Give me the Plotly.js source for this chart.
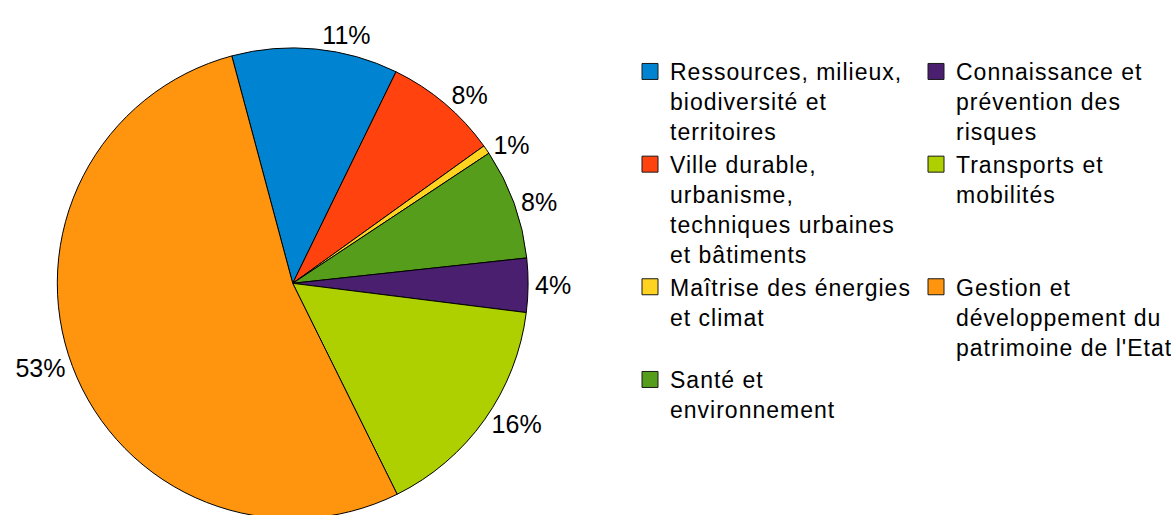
<!DOCTYPE html>
<html>
<head>
<meta charset="utf-8">
<script src="https://cdn.plot.ly/plotly-3.0.1.min.js"></script>
<style>
html,body{margin:0;padding:0;overflow:hidden;background:#fff;width:1171px;height:515px;}
#chart{width:1171px;height:540px;}
.legendtext{letter-spacing:1px;}
</style>
</head>
<body>
<div id="chart"></div>
<script>
// Slice order (clockwise from the top)
const categories = [
  "Ressources, milieux,<br>biodiversité et<br>territoires",
  "Ville durable,<br>urbanisme,<br>techniques urbaines<br>et bâtiments",
  "Maîtrise des énergies<br>et climat",
  "Santé et<br>environnement",
  "Connaissance et<br>prévention des<br>risques",
  "Transports et<br>mobilités",
  "Gestion et<br>développement du<br>patrimoine de l'Etat"
];
const shares = [11.4, 7.85, 0.6, 7.6, 3.7, 15.7, 53.15];
const colors = ["#0084d1", "#ff420e", "#ffd320", "#579d1c", "#4b1f6f", "#aecf00", "#ff950e"];
// legend reading order (row by row, two columns)
const legendOrder = [0, 4, 1, 5, 2, 6, 3];

const FONT = "Liberation Sans, Arial, sans-serif";

const data = [{
  type: "pie",
  labels: categories,
  values: shares,
  sort: false,
  direction: "clockwise",
  rotation: -15,
  marker: {colors: colors, line: {color: "#000000", width: 1}},
  texttemplate: "%{percent:.0%}",
  textposition: "outside",
  textfont: {family: FONT, size: 25, color: "#000000"},
  outsidetextfont: {family: FONT, size: 25, color: "#000000"},
  domain: {x: [0.08186, 0.75443], y: [0.03944, 0.9113]},
  showlegend: false,
  hoverinfo: "label+percent"
}];

legendOrder.forEach(function(i, rank) {
  data.push({
    type: "scatter",
    mode: "markers",
    x: [null], y: [null],
    name: categories[i],
    legendrank: rank + 1,
    marker: {symbol: "square", size: 16, color: colors[i], line: {color: "#1a1a1a", width: 1}},
    showlegend: true,
    hoverinfo: "skip"
  });
});

const layout = {
  width: 1171,
  height: 540,
  margin: {l: 0, r: 471, t: 0, b: 0, pad: 0, autoexpand: false},
  paper_bgcolor: "#ffffff",
  plot_bgcolor: "#ffffff",
  font: {family: FONT, color: "#000000"},
  xaxis: {visible: false},
  yaxis: {visible: false},
  showlegend: true,
  legend: {
    orientation: "h",
    x: 0.9,
    xanchor: "left",
    y: 0.9074,
    yanchor: "top",
    entrywidth: 241,
    entrywidthmode: "pixels",
    maxheight: 1,
    valign: "top",
    traceorder: "normal",
    font: {family: FONT, size: 23, color: "#000000"},
    bgcolor: "rgba(0,0,0,0)",
    borderwidth: 0
  }
};

Plotly.newPlot("chart", data, layout, {displayModeBar: false, staticPlot: true});
</script>
</body>
</html>
